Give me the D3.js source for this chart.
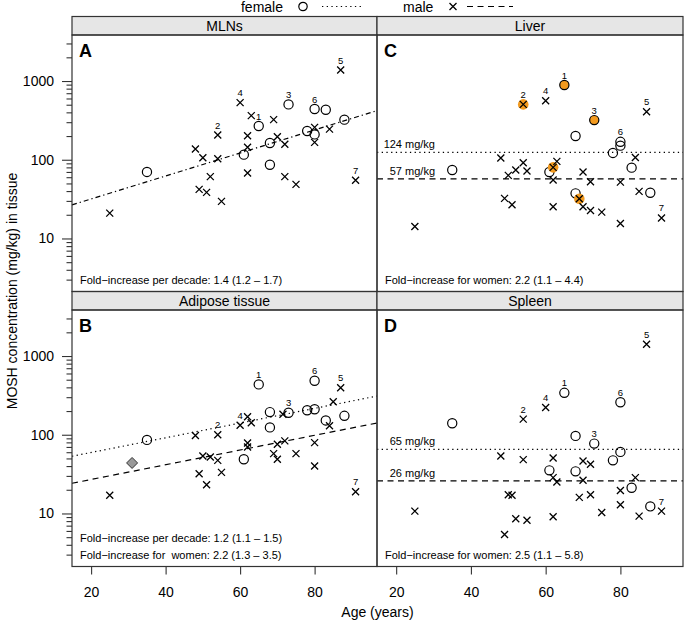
<!DOCTYPE html>
<html><head><meta charset="utf-8">
<script src="https://cdn.jsdelivr.net/npm/d3@7"></script>
<style>body{margin:0;background:#fff} text{font-family:"Liberation Sans",Arial,Helvetica,sans-serif;fill:#000}</style>
</head><body><svg id="c" width="685" height="623"></svg>
<script>
// ---- data: [age, MOSH mg/kg, sex, subject label, highlighted] ----
const mlnPoints = [
  [25,21,"m"],[35,70,"f"],[48,137,"m"],[50,106,"m"],[49,42,"m"],[51,38.5,"m"],[52,61,"m"],
  [54,206,"m","2"],[54,103,"m"],[55,29.6,"m"],[60,531,"m","4"],[61,116,"f"],[62,202,"m"],
  [62,144,"m"],[62,68,"m"],[63,363,"m"],[65,268,"f","1"],[68,163,"f"],[68,86.5,"f"],
  [69,323,"m"],[70,196,"m"],[72,157,"m"],[72,61,"m"],[73,505,"f","3"],[75,48.7,"m"],
  [78,232,"f"],[80,441,"f","6"],[80,258,"m"],[80,210,"f"],[80,166,"m"],[83,432,"f"],
  [84,245,"m"],[87,1380,"m","5"],[88,323,"f"],[91,55,"m","7"]
];
const adiposePoints = [
  [25,17,"m"],[35,86,"f"],[48,97.7,"m"],[49,32,"m"],[50,53.8,"m"],[51,23.2,"m"],[52,52.2,"m"],
  [54,100,"m","2"],[54,47.3,"m"],[55,33.3,"m"],[60,132,"m","4"],[61,48.8,"f"],[62,169,"m"],
  [62,78.7,"m"],[62,70,"m"],[63,142,"m"],[65,436,"f","1"],[68,194,"f"],[68,124,"f"],
  [69,57.6,"m"],[70,75.7,"m"],[70,48.8,"m"],[71.5,182,"m"],[72,83.5,"m"],[73,190,"f","3"],
  [75,57.6,"m"],[78,205,"f"],[80,485,"f","6"],[80,211,"f"],[80,79.4,"m"],[80,40.1,"m"],
  [83,152,"f"],[84,130,"m"],[85,262,"m"],[87,395,"m","5"],[88,174,"f"],[91,18.9,"m","7"]
];
const adiposeReference = [[31,43.8]];
const liverPoints = [
  [25,14.2,"m"],[35,74,"f"],[48,105,"m"],[49,32.3,"m"],[50,63.3,"m"],[51,26.8,"m"],[52,74,"m"],
  [54,505,"m","2",1],[54,91.7,"m"],[55,71.8,"m"],[60,562,"m","4"],[61,69.8,"f"],[62,80,"m","",1],
  [62,55.2,"m"],[62,25.3,"m"],[63,95.3,"m"],[65,890,"f","1",1],[68,200,"f"],[68,37.4,"f"],
  [69,32,"m","",1],[70,69.8,"m"],[70,25.3,"m"],[72,52.6,"m"],[72,22.7,"m"],[73,319,"f","3",1],
  [75,21.6,"m"],[78,122,"f"],[80,52,"m"],[80,15.5,"m"],[80,169,"f","6"],[80,151,"f"],
  [83,79.3,"f"],[84,107,"m"],[85,39.6,"m"],[87,408,"m","5"],[88,38.1,"f"],[91,18.2,"m","7"]
];
const spleenPoints = [
  [25,10.7,"m"],[35,140,"f"],[48,53.8,"m"],[49,5.4,"m"],[50,17.3,"m"],[51,17,"m"],[52,8.55,"m"],
  [54,158,"m","2"],[54,48.3,"m"],[55,8.2,"m"],[60,222,"m","4"],[61,35.3,"f"],[62,50.7,"m"],
  [62,28.5,"m"],[63,25.1,"m"],[62,9.08,"m"],[65,341,"f","1"],[68,96.7,"f"],[68,34.3,"f"],
  [69,16,"m"],[70,46.4,"m"],[70,26.4,"m"],[72,42.2,"m"],[72,17.3,"m"],[73,77.2,"f","3"],
  [75,10.3,"m"],[78,47.3,"f"],[80,259,"f","6"],[80,60.5,"f"],[80,19.6,"m"],[80,12.9,"m"],
  [83,21.2,"f"],[84,28.5,"m"],[85,9.25,"m"],[87,1409,"m","5"],[88,12.3,"f"],[91,10.7,"m","7"]
];
// trend lines (age, value) at the ends of the age axis
const mlnTrend = [[14.87,26.7],[96.75,420]];
const adiposeTrendFemale = [[14.87,53.3],[96.75,310]];
const adiposeTrendMale = [[14.87,24.2],[96.75,141]];
// reference levels [female, male]
const liverLevels = [124, 57];
const spleenLevels = [65, 26];
const xTicks = [20,40,60,80];
const yMajor = [10,100,1000];
const panelTitles = ["MLNs","Liver","Adipose tissue","Spleen"];
const panelLetters = ["A","C","B","D"];
const notes = [
  ["Fold\u2212increase per decade: 1.4 (1.2 \u2013 1.7)"],
  ["Fold\u2212increase for women: 2.2 (1.1 \u2013 4.4)"],
  ["Fold\u2212increase per decade: 1.2 (1.1 \u2013 1.5)","Fold\u2212increase for  women: 2.2 (1.3 \u2013 3.5)"],
  ["Fold\u2212increase for women: 2.5 (1.1 \u2013 5.8)"]
];

// ---- layout ----
const svg = d3.select("#c");
const cols = [[72,377],[377,683]];
const rows = [{strip:16.5, top:35, bottom:291.5},{strip:291.5, top:310, bottom:566.5}];
const ageDomain = [14.87, 96.75];
const yDomain = [2.12, 3842];
const ORANGE = "#f39a1e";
const DOT = "1.3,3.4", DASH = "6,4.5", DASHDOT = "5,3,1.3,3";

function makePanel(i){
  const c = i % 2, r = Math.floor(i/2);
  const [x0,x1] = cols[c]; const R = rows[r];
  const x = d3.scaleLinear().domain(ageDomain).range([x0,x1]);
  const y = d3.scaleLog().domain(yDomain).range([R.bottom,R.top]);
  return {c,r,x0,x1,R,x,y};
}
const panels = [0,1,2,3].map(makePanel);

function drawPoints(P, pts){
  const g = svg.append("g");
  pts.forEach(d=>{
    const px = P.x(d[0]), py = P.y(d[1]);
    if(d[2]==="f"){
      g.append("circle").attr("cx",px).attr("cy",py).attr("r",4.6)
        .attr("fill", d[4] ? ORANGE : "none").attr("stroke","#000").attr("stroke-width",1.2);
    } else {
      if(d[4]) g.append("circle").attr("cx",px).attr("cy",py).attr("r",5.3).attr("fill",ORANGE);
      const s = 3.5;
      g.append("path").attr("d",`M${px-s},${py-s}L${px+s},${py+s}M${px-s},${py+s}L${px+s},${py-s}`)
        .attr("stroke","#000").attr("stroke-width",1.3).attr("fill","none");
    }
    if(d[3]) g.append("text").attr("x",px).attr("y",py-6.5).attr("text-anchor","middle")
      .attr("font-size",9.5).text(d[3]);
  });
}
function drawTrend(P, pts, dash){
  const line = d3.line().x(d=>P.x(d[0])).y(d=>P.y(d[1]));
  svg.append("path").attr("d",line(pts)).attr("fill","none").attr("stroke","#000")
    .attr("stroke-width",1.2).attr("stroke-dasharray",dash);
}
function drawLevel(P, v, dash, label){
  const yy = P.y(v);
  svg.append("line").attr("x1",P.x0).attr("x2",P.x1).attr("y1",yy).attr("y2",yy)
    .attr("stroke","#000").attr("stroke-width",1.2).attr("stroke-dasharray",dash);
  svg.append("text").attr("x",P.x0+58).attr("y",yy-4).attr("text-anchor","end")
    .attr("font-size",11).text(label);
}

// frames, strips
panels.forEach((P,i)=>{
  svg.append("rect").attr("x",P.x0).attr("y",P.R.strip).attr("width",P.x1-P.x0)
    .attr("height",P.R.top-P.R.strip).attr("fill","#e6e6e6").attr("stroke","#333").attr("stroke-width",1.2);
  svg.append("text").attr("x",(P.x0+P.x1)/2).attr("y",P.R.top-4.5).attr("text-anchor","middle")
    .attr("font-size",14).text(panelTitles[i]);
  svg.append("text").attr("x",P.x0+7).attr("y",P.R.top+22).attr("font-size",18)
    .attr("font-weight","bold").text(panelLetters[i]);
  const n = notes[i];
  n.forEach((t,k)=>{
    svg.append("text").attr("x",P.x0+8).attr("y",P.R.bottom-8-(n.length-1-k)*16.5)
      .attr("font-size",11).style("white-space","pre").text(t);
  });
});

// marks
drawTrend(panels[0], mlnTrend, DASHDOT);
drawPoints(panels[0], mlnPoints);
drawLevel(panels[1], liverLevels[0], DOT, liverLevels[0]+" mg/kg");
drawLevel(panels[1], liverLevels[1], DASH, liverLevels[1]+" mg/kg");
drawPoints(panels[1], liverPoints);
drawTrend(panels[2], adiposeTrendFemale, DOT);
drawTrend(panels[2], adiposeTrendMale, DASH);
drawPoints(panels[2], adiposePoints);
adiposeReference.forEach(d=>{
  const P = panels[2], px=P.x(d[0]), py=P.y(d[1]), s=5.5;
  svg.append("path").attr("d",`M${px},${py-s}L${px+s},${py}L${px},${py+s}L${px-s},${py}Z`)
    .attr("fill","#9a9a9a").attr("stroke","#333").attr("stroke-width",1);
});
drawLevel(panels[3], spleenLevels[0], DOT, spleenLevels[0]+" mg/kg");
drawLevel(panels[3], spleenLevels[1], DASH, spleenLevels[1]+" mg/kg");
drawPoints(panels[3], spleenPoints);

// panel borders on top
panels.forEach(P=>{
  svg.append("rect").attr("x",P.x0).attr("y",P.R.top).attr("width",P.x1-P.x0)
    .attr("height",P.R.bottom-P.R.top).attr("fill","none").attr("stroke","#333").attr("stroke-width",1.2);
});

// y axes (left column)
[panels[0],panels[2]].forEach(P=>{
  const minor = [];
  for(let e=0;e<4;e++) for(let m=2;m<=9;m++){ const v=m*Math.pow(10,e); if(v>yDomain[0]&&v<yDomain[1]) minor.push(v); }
  const g = svg.append("g").attr("transform",`translate(${P.x0},0)`);
  g.call(d3.axisLeft(P.y).tickValues(minor).tickSize(5.5).tickFormat(""));
  const g2 = svg.append("g").attr("transform",`translate(${P.x0},0)`);
  g2.call(d3.axisLeft(P.y).tickValues(yMajor).tickSize(10).tickPadding(8).tickFormat(d3.format("d")));
  [g,g2].forEach(gg=>{ gg.select(".domain").remove(); gg.selectAll("line").attr("stroke","#333").attr("stroke-width",1.1); });
  g2.selectAll("text").attr("font-size",14).attr("font-family",null);
});
// x axes (bottom row)
[panels[2],panels[3]].forEach(P=>{
  const g = svg.append("g").attr("transform",`translate(0,${P.R.bottom})`);
  g.call(d3.axisBottom(P.x).tickValues(xTicks).tickSize(8).tickPadding(13).tickFormat(d3.format("d")));
  g.select(".domain").remove();
  g.selectAll("line").attr("stroke","#333").attr("stroke-width",1.1);
  g.selectAll("text").attr("font-size",14).attr("font-family",null);
});

// axis titles
svg.append("text").attr("transform","translate(17,291) rotate(-90)").attr("text-anchor","middle")
  .attr("font-size",14).text("MOSH concentration (mg/kg) in tissue");
svg.append("text").attr("x",377.5).attr("y",617).attr("text-anchor","middle")
  .attr("font-size",14).text("Age (years)");

// legend
const lg = svg.append("g");
lg.append("text").attr("x",283).attr("y",11.5).attr("text-anchor","end").attr("font-size",14).text("female");
lg.append("circle").attr("cx",303).attr("cy",6.5).attr("r",4.2).attr("fill","none").attr("stroke","#000").attr("stroke-width",1.2);
lg.append("line").attr("x1",322).attr("x2",364).attr("y1",6.5).attr("y2",6.5).attr("stroke","#000").attr("stroke-width",1.2).attr("stroke-dasharray",DOT);
lg.append("text").attr("x",403).attr("y",11.5).attr("font-size",14).text("male");
lg.append("path").attr("d","M449.5,3L456.5,10M449.5,10L456.5,3").attr("stroke","#000").attr("stroke-width",1.3);
lg.append("line").attr("x1",467).attr("x2",513).attr("y1",6.5).attr("y2",6.5).attr("stroke","#000").attr("stroke-width",1.2).attr("stroke-dasharray",DASH);
</script></body></html>
